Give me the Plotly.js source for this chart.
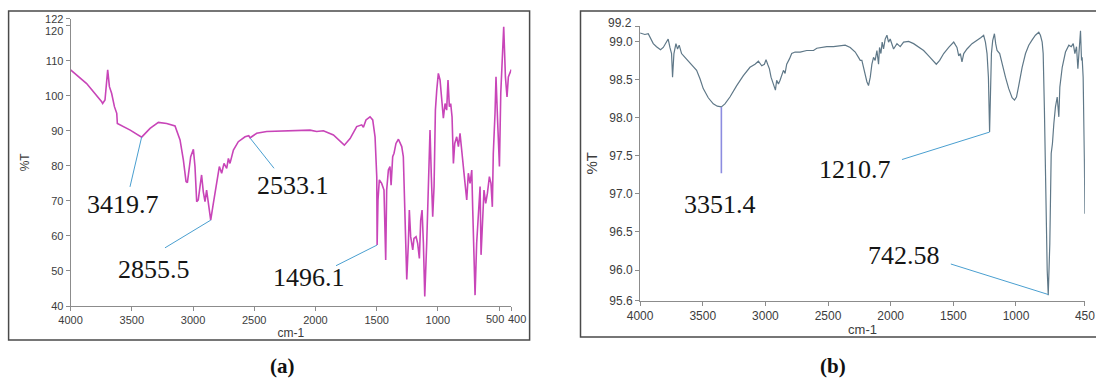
<!DOCTYPE html>
<html>
<head>
<meta charset="utf-8">
<script src="https://cdn.plot.ly/plotly-3.0.1.min.js"></script>
<style>
html,body{margin:0;padding:0;background:#fff;}
#chart{width:1096px;height:384px;}
</style>
</head>
<body>
<div id="chart"></div>
<script>
// ---------- DATA ----------
// Panel (a): wavenumber (cm-1) and %T
const A_wave = [4000,3869,3746,3738,3719,3697,3683,3665,3642,3632,3623,3618,3596,3513,3419.7,3351,3283,3215,3147,3106,3079,3057,3046,3019,2997,2984,2970,2957,2943,2930,2916,2902,2889,2881,2867,2855.5,2834,2812,2785,2766,2747,2725,2711,2698,2670,2630,2575,2545,2533,2521,2480,2398,2300,2210,2126,2044,1990,1935,1853,1799,1764,1717,1663,1622,1608,1587,1554,1532,1513,1499,1496.1,1489,1478,1459,1440,1426,1418,1404,1391,1382,1369,1358,1342,1322,1295,1282,1268,1254,1241,1233,1222,1205,1195,1178,1165,1151,1140,1129,1118,1107,1091,1077,1064,1053,1042,1031,1020,1009,996,982,969,955,941,928,917,906,895,884,873,862,846,832,819,805,791,778,764,751,737,723,715,704,696,683,669,655,647,634,623,609,595,579,566,555,547,533,525,511,497,486,476,462,448,435,424,410,400];
const A_T = [107.4,103.5,98.3,97.8,98.8,107.4,102.6,100.7,96.9,95.9,95.0,92.1,91.7,90.2,88.2,90.7,92.4,92.1,91.4,87.4,81.7,75.5,75.2,82.6,84.7,79.8,69.8,70.3,74.1,77.4,72.6,69.8,73.1,71.2,66.9,64.5,69.3,74.1,79.8,77.9,80.7,79.3,82.1,80.7,84.5,86.9,88.3,88.6,88.0,88.3,89.3,89.8,89.9,90.0,90.0,90.2,89.8,90.0,88.8,86.9,85.9,87.8,91.2,91.7,91.0,93.1,94.0,93.1,88.3,76.9,57.4,70.3,76.0,75.0,73.1,53.1,73.1,78.8,79.8,74.5,82.6,83.6,86.4,87.6,85.5,82.6,67.4,47.6,57.9,67.4,59.8,56.0,59.3,59.8,57.9,53.6,64.5,67.4,57.9,42.7,57.9,76.9,90.2,76.9,65.5,74.1,95.9,101.6,106.4,104.5,99.7,93.6,97.8,95.9,104.5,96.9,97.8,94.0,80.7,86.4,88.3,85.5,89.3,83.6,79.8,75.0,70.3,77.9,75.0,78.8,67.4,50.3,43.1,57.9,67.4,74.1,54.6,67.4,73.1,69.3,72.2,76.9,75.0,68.3,83.6,95.0,105.4,92.1,79.8,100.7,110.2,119.7,105.4,99.7,105.4,106.9,107.5];

// Panel (b): wavenumber (cm-1) and %T
const B_wave = [4000,3962,3935,3917,3895,3869,3837,3815,3794,3776,3762,3749,3741,3730,3714,3701,3688,3669,3642,3616,3589,3562,3549,3522,3496,3456,3416,3384,3351.4,3323,3283,3229,3176,3123,3083,3056,3029,3008,2995,2982,2968,2955,2942,2931,2920,2910,2896,2883,2870,2856,2843,2830,2808,2790,2763,2723,2670,2616,2590,2550,2510,2457,2403,2363,2323,2283,2257,2243,2230,2217,2203,2190,2177,2163,2150,2137,2124,2110,2097,2089,2078,2068,2057,2044,2030,2017,2004,1990,1977,1950,1924,1897,1857,1817,1777,1737,1697,1663,1636,1609,1577,1537,1497,1471,1457,1444,1431,1417,1391,1351,1311,1279,1258,1244,1231,1220,1210.7,1204,1196,1186,1172,1162,1151,1130,1111,1084,1058,1031,1012,996,978,951,924,898,871,845,818,805,791,783,773,762,751,742.58,730,719,709,698,685,671,658,650,631,605,578,559,543,530,517,506,496,485,477,472,464,458,454,450];
const B_T = [99.11,99.09,99.10,99.05,98.97,98.93,98.89,98.92,98.97,99.03,98.92,98.84,98.53,98.84,98.97,98.90,98.95,98.84,98.79,98.74,98.70,98.64,98.62,98.51,98.38,98.26,98.18,98.15,98.14,98.18,98.27,98.42,98.55,98.66,98.70,98.74,98.68,98.70,98.76,98.70,98.64,98.53,98.47,98.42,98.36,98.49,98.44,98.49,98.55,98.62,98.58,98.70,98.77,98.84,98.86,98.86,98.88,98.88,98.91,98.92,98.93,98.93,98.94,98.95,98.92,98.86,98.79,98.75,98.75,98.66,98.55,98.47,98.42,98.53,98.70,98.79,98.75,98.88,98.70,98.92,98.84,98.99,98.90,99.03,99.08,98.99,99.03,98.95,98.90,98.97,98.93,98.99,99.00,98.97,98.92,98.88,98.81,98.75,98.70,98.75,98.84,98.92,98.99,98.92,98.81,98.84,98.73,98.84,98.90,98.97,99.01,99.05,99.08,98.99,98.84,98.53,97.81,98.44,98.84,99.01,99.10,98.97,98.88,98.84,98.70,98.53,98.38,98.26,98.23,98.27,98.42,98.66,98.84,98.95,99.02,99.08,99.12,99.08,98.99,98.84,98.09,96.79,96.00,95.67,96.35,97.53,97.66,97.92,98.14,98.27,98.01,98.40,98.66,98.86,98.95,98.93,98.97,98.84,98.93,98.64,98.88,99.14,98.75,98.79,98.53,98.09,97.44,96.74];

// Axis ticks
const A_xticks = [4000,3500,3000,2500,2000,1500,1000,500,400];
const A_yticks = [40,50,60,70,80,90,100,110,120,122];
const B_xticks = [4000,3500,3000,2500,2000,1500,1000,450];
const B_yticks = [95.6,96.0,96.5,97.0,97.5,98.0,98.5,99.0,99.2];

// Peak labels
const A_peakLabels = ['3419.7','2855.5','2533.1','1496.1'];
const A_peakWave = [3419.7,2855.5,2533.1,1496.1];
const A_peakT = [88.2,64.5,87.9,57.4];
const B_peakLabels = ['3351.4','1210.7','742.58'];
const B_peakWave = [3351.4,1210.7,742.58];
const B_peakT = [98.14,97.81,95.68];

const axisTitleX = 'cm-1';
const axisTitleY = '%T';
const panelLabels = ['(a)','(b)'];

// ---------- LAYOUT / STYLE ----------
const W = 1096, H = 384;
const px = v => v / W;
const py = v => 1 - v / H;

const domA = {x:[px(70.6), px(511.3)], y:[py(306), py(18.7)]};
const domB = {x:[px(640.1), px(1084.9)], y:[py(300.6), py(26.1)]};

const tickFontA = {family:'Liberation Sans, Arial, sans-serif', size:11, color:'#3c3c3c'};
const tickFontB = {family:'Liberation Sans, Arial, sans-serif', size:12, color:'#3c3c3c'};
const axisCommon = {showline:true, linecolor:'#8c8c8c', linewidth:1, ticks:'outside', ticklen:4, tickcolor:'#8c8c8c', tickwidth:1, showgrid:false, zeroline:false, fixedrange:true, tickangle:0};

const traces = [
  {x:A_wave, y:A_T, xaxis:'x', yaxis:'y', type:'scatter', mode:'lines',
   line:{color:'#c845b8', width:1.6}, hoverinfo:'skip', showlegend:false},
  {x:B_wave, y:B_T, xaxis:'x2', yaxis:'y2', type:'scatter', mode:'lines',
   line:{color:'#5f7888', width:1.2}, hoverinfo:'skip', showlegend:false}
];

// Label placement (data coords): text-end of leader and text centre
const A_leaderEnd = [[3515,74.0],[3229,56.6],[2338,79.3],[1832,51.5]];
const A_textPos = [[3572,68.9],[3321,50.4],[2183,74.4],[2052,48.0]];
const B_leaderEnd = [[3351.4,97.27],[1910,97.45],[1520,96.08]];
const B_textPos = [[3365,96.855],[2284,97.316],[1896,96.197]];

const labelFont = {family:'Liberation Serif, Times New Roman, serif', size:26, color:'#151515'};
const leaderColor = '#4a9fd0';

const shapes = [];
const annotations = [];

A_peakLabels.forEach((t,i)=>{
  shapes.push({type:'line', xref:'x', yref:'y', x0:A_peakWave[i], y0:A_peakT[i], x1:A_leaderEnd[i][0], y1:A_leaderEnd[i][1], line:{color:leaderColor, width:1}});
  annotations.push({xref:'x', yref:'y', x:A_textPos[i][0], y:A_textPos[i][1], text:t, showarrow:false, font:labelFont, xanchor:'center', yanchor:'middle'});
});
B_peakLabels.forEach((t,i)=>{
  shapes.push({type:'line', xref:'x2', yref:'y2', x0:B_peakWave[i], y0:B_peakT[i], x1:B_leaderEnd[i][0], y1:B_leaderEnd[i][1], line:{color: i===0 ? '#8c8ce0' : leaderColor, width: i===0 ? 1.6 : 1}});
  annotations.push({xref:'x2', yref:'y2', x:B_textPos[i][0], y:B_textPos[i][1], text:t, showarrow:false, font:labelFont, xanchor:'center', yanchor:'middle'});
});

// frames around the two panels
shapes.push({type:'rect', xref:'paper', yref:'paper', x0:px(8.6), x1:px(529.6), y0:py(340), y1:py(11), line:{color:'#4a4a4a', width:1.5}, fillcolor:'rgba(0,0,0,0)'});
shapes.push({type:'rect', xref:'paper', yref:'paper', x0:px(580.5), x1:px(1099), y0:py(337), y1:py(11), line:{color:'#4a4a4a', width:1.5}, fillcolor:'rgba(0,0,0,0)'});

// crowded tick labels, drawn nudged apart (as in the original)
const A_yticktext = A_yticks.map(v => (v===120 ? '' : String(v)));
const B_yticktext = B_yticks.map(v => (v===99.2 ? '' : v.toFixed(1)));
const A_xticktext = A_xticks.map(v => ((v===500 || v===400) ? '' : String(v)));
annotations.push({xref:'paper', yref:'y', x:domA.x[0], y:120, text:'120', showarrow:false, xanchor:'right', yanchor:'middle', xshift:-6, yshift:-5, font:tickFontA});
annotations.push({xref:'paper', yref:'y2', x:domB.x[0], y:99.2, text:'99.2', showarrow:false, xanchor:'right', yanchor:'middle', xshift:-6, yshift:3, font:tickFontB});
annotations.push({xref:'x', yref:'paper', x:500, y:domA.y[0], text:'500', showarrow:false, xanchor:'right', yanchor:'top', xshift:7, yshift:-5, font:tickFontA});
annotations.push({xref:'x', yref:'paper', x:400, y:domA.y[0], text:'400', showarrow:false, xanchor:'left', yanchor:'top', xshift:-5, yshift:-5, font:tickFontA});

// panel captions
const capFont = {family:'Liberation Serif, Times New Roman, serif', size:21, color:'#111'};
annotations.push({xref:'paper', yref:'paper', x:px(282), y:py(366), text:'<b>'+panelLabels[0]+'</b>', showarrow:false, xanchor:'center', yanchor:'middle', font:capFont});
annotations.push({xref:'paper', yref:'paper', x:px(833), y:py(366), text:'<b>'+panelLabels[1]+'</b>', showarrow:false, xanchor:'center', yanchor:'middle', font:capFont});

const layout = {
  width:W, height:H,
  margin:{l:0, r:0, t:0, b:0, pad:0},
  paper_bgcolor:'#ffffff', plot_bgcolor:'#ffffff',
  showlegend:false,
  xaxis: Object.assign({}, axisCommon, {domain:domA.x, anchor:'y', range:[4000,400], tickmode:'array', tickvals:A_xticks, ticktext:A_xticktext, tickfont:tickFontA,
    title:{text:axisTitleX, font:{family:'Liberation Sans, Arial, sans-serif', size:12, color:'#3c3c3c'}, standoff:3}}),
  yaxis: Object.assign({}, axisCommon, {domain:domA.y, anchor:'x', range:[40,122], tickmode:'array', tickvals:A_yticks, ticktext:A_yticktext, tickfont:tickFontA,
    title:{text:axisTitleY, font:{family:'Liberation Sans, Arial, sans-serif', size:12, color:'#3c3c3c'}, standoff:12}}),
  xaxis2: Object.assign({}, axisCommon, {domain:domB.x, anchor:'y2', range:[4000,450], tickmode:'array', tickvals:B_xticks, ticktext:B_xticks.map(String), tickfont:tickFontB,
    title:{text:axisTitleX, font:{family:'Liberation Sans, Arial, sans-serif', size:13, color:'#3c3c3c'}, standoff:2}}),
  yaxis2: Object.assign({}, axisCommon, {domain:domB.y, anchor:'x2', range:[95.6,99.2], tickmode:'array', tickvals:B_yticks, ticktext:B_yticktext, tickfont:tickFontB,
    title:{text:axisTitleY, font:{family:'Liberation Sans, Arial, sans-serif', size:15, color:'#3c3c3c'}, standoff:8}}),
  shapes:shapes,
  annotations:annotations
};

Plotly.newPlot('chart', traces, layout, {staticPlot:true, displayModeBar:false});
</script>
</body>
</html>
